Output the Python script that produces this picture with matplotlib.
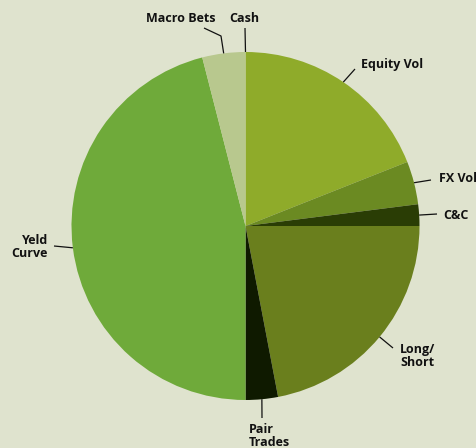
import matplotlib.pyplot as plt
import numpy as np

# portfolio allocation (%), clockwise from 12 o'clock
labels = ['Equity Vol', 'FX Vol', 'C&C', 'Long/\nShort', 'Pair\nTrades',
          'Yeld\nCurve', 'Macro Bets', 'Cash']
shares = [19, 4, 2, 22, 3, 46, 4, 0]
colors = ['#8fab2a', '#6b8a22', '#2a3d05', '#6a7f1d', '#0f1a00',
          '#6faa3a', '#b8c88e', '#3d4a1a']

W, H = 476, 448
cx, cy, R = 245.5, H - 226, 174
bg = '#dfe3ce'

# text anchor (px from top-left), alignment, extra bend points of the leader line
label_pos = [
    ((361, 64), 'left', [(355, 69)]),
    ((439, 178), 'left', [(431, 180)]),
    ((443, 215), 'left', [(437, 214)]),
    ((400, 356), 'left', [(393, 348)]),
    ((249, 436), 'left', [(262, 418)]),
    ((48, 247), 'right', [(54, 246)]),
    ((181, 18), 'center', [(221, 36), (204, 28)]),
    ((244, 18), 'center', [(245, 28)]),
]

fig = plt.figure(figsize=(W / 100, H / 100), dpi=100, facecolor=bg)
ax = fig.add_axes([0, 0, 1, 1])
ax.set_facecolor(bg)

wedges, _ = ax.pie(shares, colors=colors, startangle=90, counterclock=False,
                   center=(cx, cy), radius=R, frame=True,
                   wedgeprops=dict(linewidth=0))
ax.set_xlim(0, W)
ax.set_ylim(0, H)
ax.set_aspect('equal')
ax.axis('off')

for w, lab, (tpos, ha, pts) in zip(wedges, labels, label_pos):
    mid = np.deg2rad((w.theta1 + w.theta2) / 2)
    xs = [cx + R * np.cos(mid)] + [p[0] for p in pts]
    ys = [cy + R * np.sin(mid)] + [H - p[1] for p in pts]
    ax.plot(xs, ys, color='#111111', lw=0.9, solid_capstyle='butt')
    ax.text(tpos[0], H - tpos[1], lab, ha=ha, va='center',
            family=['Open Sans', 'DejaVu Sans'], fontweight='bold',
            fontsize=9, linespacing=1.0, color='#111111',
            multialignment='right' if ha == 'right' else 'left')

fig.savefig('out.png', dpi=100, facecolor=bg)
